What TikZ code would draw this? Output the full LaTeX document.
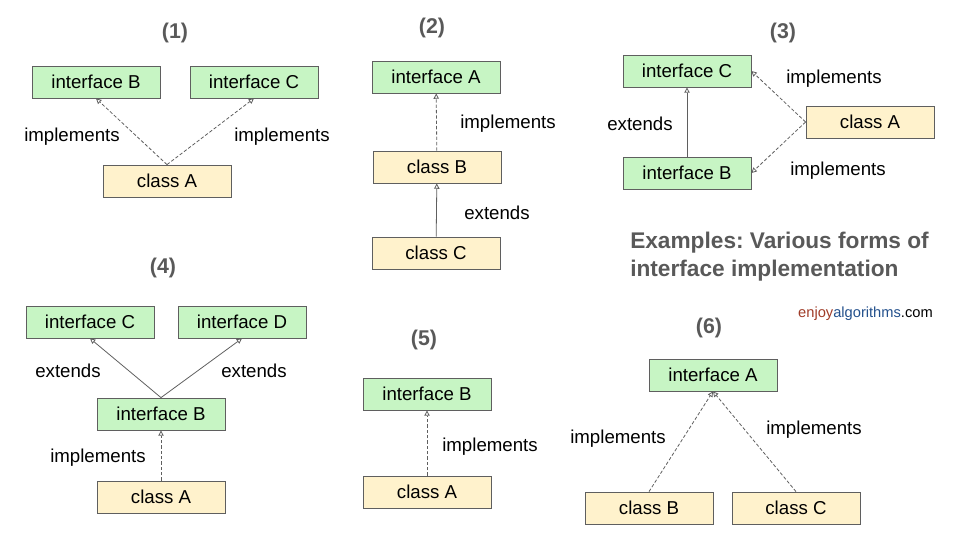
\documentclass[tikz,border=0pt]{standalone}
\usepackage{fontspec}
\setmainfont{Liberation Sans}
\usepackage{xcolor}
\usepackage{tikz}
\usetikzlibrary{arrows.meta,positioning}

\definecolor{ifacegreen}{RGB}{199,245,196}
\definecolor{classyellow}{RGB}{255,242,204}
\definecolor{linegray}{RGB}{95,95,95}
\definecolor{titlegray}{RGB}{89,89,89}
\definecolor{enjoyred}{RGB}{160,60,40}
\definecolor{algoblue}{RGB}{35,80,140}

\begin{document}
\frenchspacing
\begin{tikzpicture}[
    x=0.75pt, y=-0.75pt,
    box/.style={rectangle, draw=linegray, line width=0.6pt, minimum width=96pt, minimum height=24pt, inner sep=0pt, font=\fontsize{14}{16}\selectfont},
    iface/.style={box, fill=ifacegreen},
    cls/.style={box, fill=classyellow},
    lbl/.style={font=\fontsize{14}{16}\selectfont, inner sep=0pt, yshift=-2pt},
    heading/.style={font=\fontsize{16}{19}\selectfont\bfseries, text=titlegray, inner sep=0pt},
    ext/.style={-{Triangle[open, length=4pt, width=4pt]}, draw=linegray, line width=0.6pt},
    impl/.style={ext, dash pattern=on 2.5pt off 1.5pt}
]
    \useasboundingbox (0,0) rectangle (960,540);

    % (1)
    \node[heading] (h1) at (175,33) {(1)};
    \node[iface] (ib1) at (96,82) {interface B};
    \node[iface] (ic1) at (254,82) {interface C};
    \node[cls] (ca1) at (167,181) {class A};
    \node[lbl] (l1a) at (72,134) {implements};
    \node[lbl] (l1b) at (282,134) {implements};
    \draw[impl] (ca1.north) -- (ib1.south);
    \draw[impl] (ca1.north) -- (ic1.south);

    % (2)
    \node[heading] (h2) at (432,28) {(2)};
    \node[iface] (ia2) at (436,77) {interface A};
    \node[cls] (cb2) at (437,167) {class B};
    \node[cls] (cc2) at (436,253) {class C};
    \node[lbl] (l2a) at (508,121) {implements};
    \node[lbl] (l2b) at (497,210) {extends};
    \draw[impl] (cb2) -- (ia2);
    \draw[ext] (cc2) -- (cb2);

    % (3)
    \node[heading] (h3) at (783,33) {(3)};
    \node[iface] (ic3) at (687,71) {interface C};
    \node[iface] (ib3) at (687,173) {interface B};
    \node[cls] (ca3) at (870,122) {class A};
    \node[lbl] (l3a) at (834,76) {implements};
    \node[lbl] (l3b) at (838,168) {implements};
    \node[lbl] (l3c) at (640,121) {extends};
    \draw[impl] (ca3.west) -- (ic3.east);
    \draw[impl] (ca3.west) -- (ib3.east);
    \draw[ext] (ib3) -- (ic3);

    % title and logo
    \node[font=\fontsize{17}{21}\selectfont\bfseries, text=titlegray, align=left, anchor=west, inner sep=0pt] (title) at (630,257) {Examples: Various forms of\\interface implementation};
    \node[font=\fontsize{11}{13}\selectfont, anchor=east, inner sep=0pt] (logo) at (933,314) {\textcolor{enjoyred}{enjoy}\textcolor{algoblue}{algorithms}.com};

    % (4)
    \node[heading] (h4) at (163,268) {(4)};
    \node[iface] (ic4) at (90,322) {interface C};
    \node[iface] (id4) at (242,322) {interface D};
    \node[iface] (ib4) at (161,414) {interface B};
    \node[cls] (ca4) at (161,497) {class A};
    \node[lbl] (l4a) at (68,368) {extends};
    \node[lbl] (l4b) at (254,368) {extends};
    \node[lbl] (l4c) at (98,455) {implements};
    \draw[ext] (ib4.north) -- (ic4.south);
    \draw[ext] (ib4.north) -- (id4.south);
    \draw[impl] (ca4) -- (ib4);

    % (5)
    \node[heading] (h5) at (424,340) {(5)};
    \node[iface] (ib5) at (427,394) {interface B};
    \node[cls] (ca5) at (427,492) {class A};
    \node[lbl] (l5a) at (490,444) {implements};
    \draw[impl] (ca5) -- (ib5);

    % (6)
    \node[heading] (h6) at (709,328) {(6)};
    \node[iface] (ia6) at (713,375) {interface A};
    \node[cls] (cb6) at (649,508) {class B};
    \node[cls] (cc6) at (796,508) {class C};
    \node[lbl] (l6a) at (618,436) {implements};
    \node[lbl] (l6b) at (814,427) {implements};
    \draw[impl] (cb6.north) -- (ia6.south);
    \draw[impl] (cc6.north) -- (ia6.south);
\end{tikzpicture}
\end{document}
